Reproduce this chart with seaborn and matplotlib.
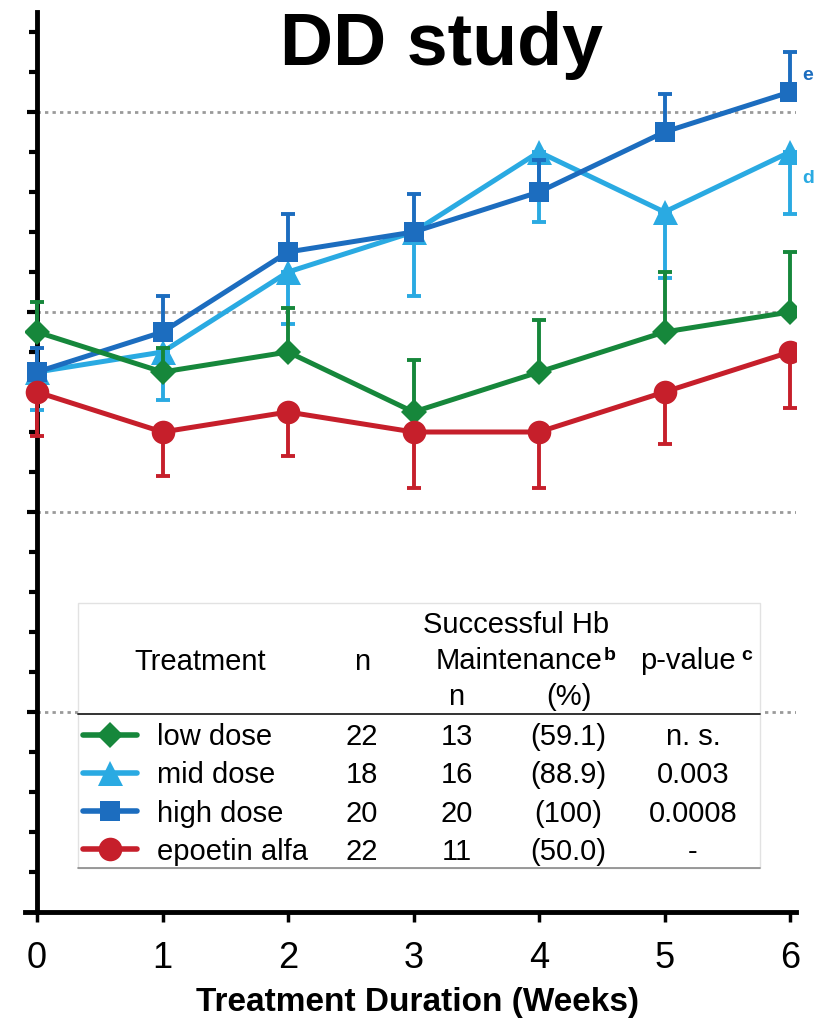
import numpy as np
import pandas as pd
import seaborn as sns
import matplotlib
matplotlib.use("Agg")
import matplotlib.pyplot as plt
from matplotlib import font_manager
from matplotlib.lines import Line2D
from matplotlib.patches import Rectangle
from matplotlib.transforms import Affine2D

# ---------------- data ----------------
weeks = [0, 1, 2, 3, 4, 5, 6]
treatments = ["low dose", "mid dose", "high dose", "epoetin alfa"]
low_dose = [11.9, 11.7, 11.8, 11.5, 11.7, 11.9, 12.0]
mid_dose = [11.7, 11.8, 12.2, 12.4, 12.8, 12.5, 12.8]
high_dose = [11.7, 11.9, 12.3, 12.4, 12.6, 12.9, 13.1]
epoetin = [11.6, 11.4, 11.5, 11.4, 11.4, 11.6, 11.8]
# one-sided error bars (up for low/high, down for mid/epoetin)
low_err_up = [0.15, 0.12, 0.22, 0.26, 0.26, 0.30, 0.30]
mid_err_down = [0.19, 0.24, 0.26, 0.32, 0.35, 0.33, 0.31]
high_err_up = [0.12, 0.18, 0.19, 0.19, 0.16, 0.19, 0.20]
epo_err_down = [0.22, 0.22, 0.22, 0.28, 0.28, 0.26, 0.28]

n_total = ["22", "18", "20", "22"]
n_success = ["13", "16", "20", "11"]
pct_success = ["(59.1)", "(88.9)", "(100)", "(50.0)"]
p_values = ["n. s.", "0.003", "0.0008", "-"]
sig_labels = {"high dose": "e", "mid dose": "d"}

colors = {"low dose": "#16873b", "mid dose": "#2aaae2",
          "high dose": "#1c6dbf", "epoetin alfa": "#c61f2b"}
markers = {"low dose": "D", "mid dose": "^", "high dose": "s", "epoetin alfa": "o"}
msizes = {"low dose": 13, "mid dose": 18, "high dose": 15, "epoetin alfa": 17}

values = {"low dose": low_dose, "mid dose": mid_dose,
          "high dose": high_dose, "epoetin alfa": epoetin}
errs = {"low dose": ([0] * 7, low_err_up),
        "mid dose": (mid_err_down, [0] * 7),
        "high dose": ([0] * 7, high_err_up),
        "epoetin alfa": (epo_err_down, [0] * 7)}

df = pd.DataFrame({
    "week": weeks * 4,
    "hb": low_dose + mid_dose + high_dose + epoetin,
    "treatment": sum([[t] * 7 for t in treatments], []),
})

# ---------------- style ----------------
sns.set_theme(style="white")
plt.rcParams["font.family"] = ["Liberation Sans", "DejaVu Sans"]
avail = {f.name for f in font_manager.fontManager.ttflist}
narrow = "Liberation Sans Narrow" if "Liberation Sans Narrow" in avail else "Liberation Sans"

W, H = 818, 1025
fig = plt.figure(figsize=(W / 100, H / 100), dpi=100)
L, R, T, B = 25, 796, 12, 912
ax = fig.add_axes([L / W, 1 - B / H, (R - L) / W, (B - T) / H])

xmin = -(37 - L) / ((790 - 37) / 6)
xmax = 6 + (R - 790) / ((790 - 37) / 6)
ax.set_xlim(xmin, xmax)
ax.set_ylim(9.0, 13.5)

# dotted reference lines
x0frac = (0 - xmin) / (xmax - xmin)
for yv in [10, 11, 12, 13]:
    ax.axhline(yv, xmin=x0frac, xmax=1, color="#9a9a9a", lw=2,
               ls=(0, (1.2, 1.5)), zorder=1)

order = ["mid dose", "high dose", "low dose", "epoetin alfa"]
for i, t in enumerate(order):
    sub = df[df.treatment == t]
    z = 3 + i
    ax.errorbar(weeks, values[t], yerr=[errs[t][0], errs[t][1]], fmt="none",
                ecolor=colors[t], elinewidth=2.8, capsize=5, capthick=2.8, zorder=z)
    sns.lineplot(data=sub, x="week", y="hb", color=colors[t], marker=markers[t],
                 markersize=msizes[t], markeredgewidth=0, lw=3.6, ax=ax,
                 legend=False, zorder=z + 0.5, errorbar=None)

for t, lab in sig_labels.items():
    ax.annotate(lab, xy=(6, values[t][-1]), xytext=(9, 12 if t == "high dose" else -19),
                textcoords="offset points", color=colors[t], fontsize=14,
                fontweight="bold", ha="left", va="center", annotation_clip=False)

# axes styling
for s in ["top", "right"]:
    ax.spines[s].set_visible(False)
ax.spines["left"].set_position(("data", 0))
for s in ["left", "bottom"]:
    ax.spines[s].set_color("black")
    ax.spines[s].set_linewidth(3.5)
ax.set_xticks(weeks)
ax.set_xticklabels([str(w) for w in weeks], fontfamily=narrow, fontsize=26)
ax.set_yticks([10, 11, 12, 13])
ax.set_yticks(np.arange(9.2, 13.45, 0.2), minor=True)
ax.set_yticklabels([])
ax.tick_params(axis="x", direction="out", length=7, width=2.5, pad=14,
               color="black", labelcolor="black", bottom=True)
ax.tick_params(axis="y", which="major", direction="out", length=7, width=3,
               color="black", left=True)
ax.tick_params(axis="y", which="minor", direction="out", length=5.5, width=3,
               color="black", left=True)
ax.set_ylabel("")
ax.set_xlabel("Treatment Duration (Weeks)", fontsize=24, fontweight="bold",
              color="black")
ax.xaxis.set_label_coords((418 - L) / (R - L), (B - 1003) / (B - T))
ax.xaxis.label.set_va("center")
ax.grid(False)
ax.set_title("DD study", x=(442 - L) / (R - L), y=(B - 65) / (B - T), pad=0,
             fontsize=53, fontweight="bold", color="black")

# ---------------- legend table ----------------
px = Affine2D().scale(1 / W, -1 / H).translate(0, 1) + fig.transFigure
fig.patches.append(Rectangle((78, 603), 682, 265, transform=px, facecolor="white",
                             edgecolor="#e2e2e2", lw=1, zorder=10))
fig.lines.append(Line2D([78, 760], [714, 714], transform=px, color="#333333", lw=1.4, zorder=11))
fig.lines.append(Line2D([78, 760], [868, 868], transform=px, color="#8a8a8a", lw=1.2, zorder=11))

fs = 21
def txt(x, y, s, ha="center", **kw):
    fig.text(x, y, s, transform=px, ha=ha, va="baseline", fontsize=kw.pop("size", fs),
             color=kw.pop("color", "black"), zorder=12, **kw)

txt(200, 670, "Treatment")
txt(362, 670, "n")
txt(516, 633, "Successful Hb")
txt(602, 669, "Maintenance", ha="right")
txt(604, 660, "b", ha="left", size=14, fontweight="bold")
txt(456, 705, "n")
txt(569, 705, "(%)")
txt(736, 669, "p-value", ha="right")
txt(741, 660, "c", ha="left", size=14, fontweight="bold")

row_c = [735, 773, 811, 849]
row_b = [745, 783, 822, 860]
for i, t in enumerate(treatments):
    fig.lines.append(Line2D([83, 110, 137], [row_c[i]] * 3, transform=px,
                            color=colors[t], lw=4, marker=markers[t],
                            markersize=msizes[t], markeredgewidth=0,
                            markevery=[1], zorder=12))
    txt(157, row_b[i], t, ha="left")
    txt(362, row_b[i], n_total[i])
    txt(457, row_b[i], n_success[i])
    txt(568, row_b[i], pct_success[i])
    txt(693, row_b[i], p_values[i])

fig.savefig("out.png", dpi=100)
